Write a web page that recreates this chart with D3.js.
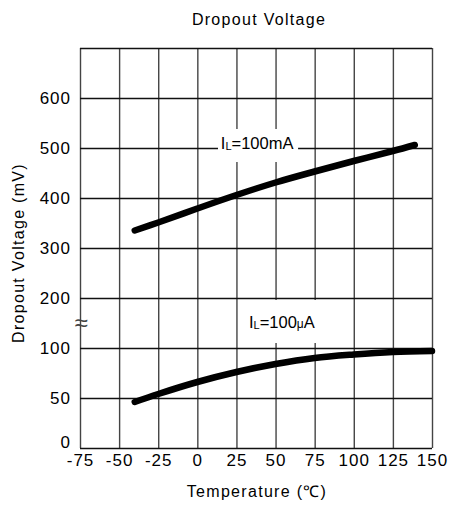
<!DOCTYPE html>
<html>
<head>
<meta charset="utf-8">
<script src="https://cdn.jsdelivr.net/npm/d3@7"></script>
<style>
  body { margin: 0; background: #fff; }
  svg { display: block; font-family: "Liberation Sans", Arial, sans-serif; }
  .tick text { font-size: 17px; letter-spacing: 1px; fill: #000; }
  .title { font-size: 16px; letter-spacing: 1.3px; }
</style>
</head>
<body>
<svg id="chart" width="450" height="507"></svg>
<script>
  // temperature (degC) and dropout voltage (mV)
  const tempA = [-40, -25, 0, 25, 50, 75, 100, 125, 139];
  const vdropA = [335, 351, 379, 406, 431, 453, 474, 494, 506]; // IL = 100mA
  const tempB = [-40, -25, 0, 25, 50, 75, 100, 125, 150];
  const vdropB = [46, 54, 66, 76, 84, 90, 93.5, 96, 97];        // IL = 100uA

  const xTicks = [-75, -50, -25, 0, 25, 50, 75, 100, 125, 150];
  const yTicks = [0, 50, 100, 200, 300, 400, 500, 600, 700];

  const plotL = 80, plotR = 432, plotT = 48, plotB = 448;

  const svg = d3.select('#chart');

  const x = d3.scaleLinear().domain([-75, 150]).range([plotL, plotR]);
  // broken axis: 100..200 squeezed into one grid row
  const y = d3.scaleLinear().domain([0, 100, 200, 700]).range([plotB, 348, 298, plotT]);

  //// grid + axes
  const gx = svg.append('g')
    .attr('transform', `translate(0,${plotB})`)
    .call(d3.axisBottom(x).tickValues(xTicks).tickSize(-(plotB - plotT)).tickPadding(6)
      .tickFormat(d => String(d)));
  gx.select('.domain').remove();
  gx.selectAll('line').attr('stroke', '#444').attr('stroke-width', 1.4);

  const gy = svg.append('g')
    .attr('transform', `translate(${plotL},0)`)
    .call(d3.axisLeft(y).tickValues(yTicks).tickSize(-(plotR - plotL)).tickPadding(9)
      .tickFormat(d => d === 700 ? '' : String(d)));
  gy.select('.domain').remove();
  gy.selectAll('line').attr('stroke', '#111').attr('stroke-width', 1.3);
  // the zero label sits above the corner, clear of the x labels
  gy.selectAll('.tick').filter(d => d === 0).select('text').attr('dy', '-0.05em');

  // break mark on the y axis
  svg.append('text')
    .attr('x', x(-75) + 1)
    .attr('y', y(150) + 8)
    .attr('text-anchor', 'middle')
    .style('font-size', '24px')
    .style('fill', '#444')
    .style('font-weight', 300)
    .text('\u2248');

  //// curves
  const line = d3.line()
    .x(d => x(d[0]))
    .y(d => y(d[1]))
    .curve(d3.curveCatmullRom);

  [[tempA, vdropA], [tempB, vdropB]].forEach(([ts, vs]) => {
    svg.append('path')
      .datum(ts.map((t, i) => [t, vs[i]]))
      .attr('d', line)
      .attr('fill', 'none')
      .attr('stroke', '#000')
      .attr('stroke-width', 6.5)
      .attr('stroke-linecap', 'round');
  });

  //// labels with white boxes behind them
  function label(box, tx, ty, main, unit, unitSmall) {
    svg.append('rect')
      .attr('x', x(box[0]))
      .attr('y', y(box[3]))
      .attr('width', x(box[1]) - x(box[0]))
      .attr('height', y(box[2]) - y(box[3]))
      .attr('fill', '#fff');
    const t = svg.append('text')
      .attr('x', x(tx))
      .attr('y', y(ty))
      .style('font-size', '16.5px');
    t.append('tspan').text('I');
    t.append('tspan').style('font-size', '11px').attr('dy', 1).text('L');
    t.append('tspan').attr('dy', -1).text('=' + main);
    if (unitSmall) {
      t.append('tspan').style('font-size', '12px').text(unitSmall);
    }
    t.append('tspan').text(unit);
  }
  label([13.2, 64.4, 472, 538], 15, 499, '100', 'mA', null);
  label([26, 99.5, 110, 196], 33, 140, '100', 'A', '\u03bc');

  //// titles
  svg.append('text')
    .attr('class', 'title')
    .attr('x', 259).attr('y', 25)
    .attr('text-anchor', 'middle')
    .text('Dropout Voltage');

  svg.append('text')
    .attr('class', 'title')
    .attr('x', 257).attr('y', 497)
    .attr('text-anchor', 'middle')
    .text('Temperature (\u2103)');

  svg.append('text')
    .attr('class', 'title')
    .attr('transform', 'translate(24,253) rotate(-90)')
    .attr('text-anchor', 'middle')
    .text('Dropout Voltage (mV)');
</script>
</body>
</html>
